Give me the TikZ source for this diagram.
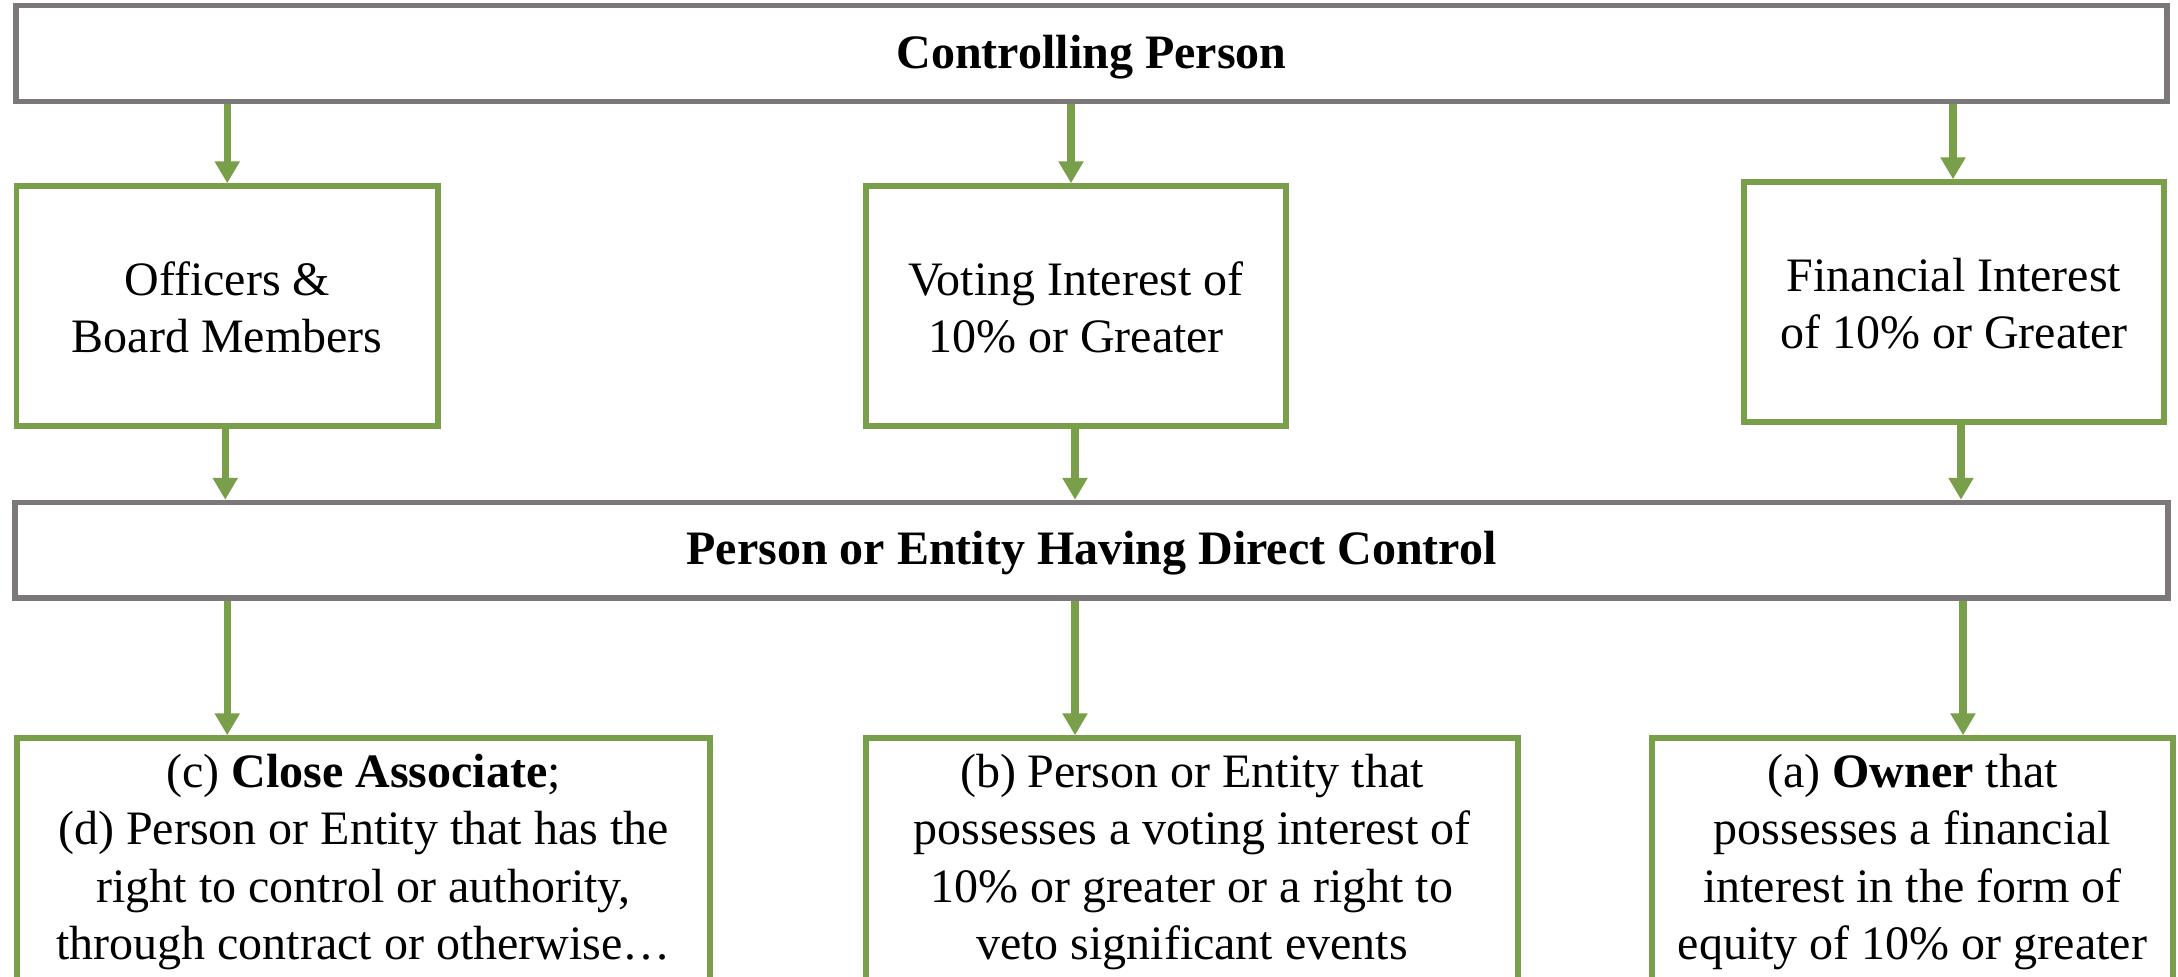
\documentclass[tikz,border=0pt]{standalone}
\usepackage{fontspec}
\setmainfont{Liberation Serif}
\usetikzlibrary{arrows.meta}
\definecolor{cgreen}{RGB}{121,159,75}
\definecolor{cgray}{RGB}{124,120,120}
\newcommand\tst{\rule{0pt}{20pt}}
\newcommand\bst{\rule[-2.25pt]{0pt}{0pt}}
\newcommand\bbst{\rule[-10.75pt]{0pt}{0pt}}
\begin{document}
\begin{tikzpicture}[x=0.5pt,y=-0.5pt,
  basebox/.style={inner sep=0pt, line width=2.75pt, align=center,
    font=\fontsize{24}{28.75}\selectfont, text=black},
  graybox/.style={basebox, draw=cgray},
  greenbox/.style={basebox, draw=cgreen},
  arr/.style={draw=cgreen, line width=3.75pt, -{Triangle[width=12pt,length=11pt]}}]
\useasboundingbox (0,0) rectangle (2178,976);
\fill[white] (0,0) rectangle (2178,976);
\clip (0,0) rectangle (2178,976);

\node[graybox, minimum width=1075.5pt, minimum height=48.1pt] (top) at (1091.5,53.6)
  {\tst\bfseries Controlling Person\bst};

\node[greenbox, minimum width=210.75pt, minimum height=120pt] (off) at (227.25,306)
  {\tst Officers \&\\Board Members\bst};
\node[greenbox, minimum width=210pt, minimum height=120pt] (vot) at (1076,306)
  {\tst Voting Interest of\\10\% or Greater\bst};
\node[greenbox, minimum width=210pt, minimum height=120pt] (fin) at (1954,302)
  {\tst Financial Interest\\of 10\% or Greater\bst};

\node[graybox, minimum width=1076.5pt, minimum height=47.75pt] (mid) at (1091.5,550.25)
  {\tst\bfseries Person or Entity Having Direct Control\bst};

\node[greenbox, minimum width=346.5pt, minimum height=126pt] (bl) at (363.5,864)
  {\tst(c) \textbf{Close Associate};\\(d) Person or Entity that has the\\right to control or authority,\\through contract or otherwise…\bbst};
\node[greenbox, minimum width=326pt, minimum height=126pt] (bm) at (1192,864)
  {\tst(b) Person or Entity that\\possesses a voting interest of\\10\% or greater or a right to\\veto significant events\bbst};
\node[greenbox, minimum width=260.5pt, minimum height=126pt] (br) at (1912.5,864)
  {\tst(a) \textbf{Owner} that\\possesses a financial\\interest in the form of\\equity of 10\% or greater\bbst};

\draw[arr] (off.north |- top.south) -- (off.north);
\draw[arr] ([xshift=-2.5pt]vot.north |- top.south) -- ([xshift=-2.5pt]vot.north);
\draw[arr] ([xshift=-0.5pt]fin.north |- top.south) -- ([xshift=-0.5pt]fin.north);

\draw[arr] ([xshift=-1pt]off.south) -- ([xshift=-1pt]off.south |- mid.north);
\draw[arr] ([xshift=-0.5pt]vot.south) -- ([xshift=-0.5pt]vot.south |- mid.north);
\draw[arr] ([xshift=3.5pt]fin.south) -- ([xshift=3.5pt]fin.south |- mid.north);

\draw[arr] (off.south |- mid.south) -- (off.south |- bl.north);
\draw[arr] ([xshift=-0.5pt]vot.south |- mid.south) -- ([xshift=-0.5pt]vot.south |- bm.north);
\draw[arr] ([xshift=4.5pt]fin.south |- mid.south) -- ([xshift=4.5pt]fin.south |- br.north);
\end{tikzpicture}
\end{document}
